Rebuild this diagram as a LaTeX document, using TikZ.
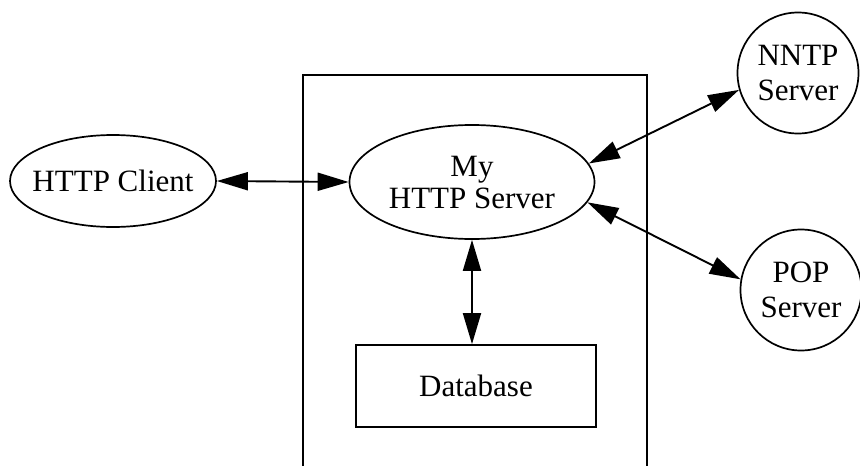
\documentclass[tikz,border=0pt]{standalone}
\usepackage{fontspec}
\setmainfont{Liberation Serif}
\usetikzlibrary{shapes.geometric,arrows.meta}
\begin{document}
\begin{tikzpicture}[x=1pt,y=-1pt,
  every node/.style={font=\fontsize{31}{32}\selectfont, inner sep=0pt},
  ell/.style={draw, ellipse, line width=1.7pt},
  circ/.style={draw, circle, line width=1.7pt, minimum size=121pt, align=center, font=\fontsize{31}{35}\selectfont},
  dbbox/.style={draw, rectangle, line width=1.7pt},
  link/.style={line width=1.9pt, {Triangle[length=31pt,width=18pt]}-{Triangle[length=31pt,width=18pt]}}
]
\useasboundingbox (0,0) rectangle (860,466);
% enclosing box (cut off at bottom)
\draw[line width=2pt] (303,470) -- (303,75) -- (647,75) -- (647,470);
\node[ell, inner xsep=-9pt, minimum width=206pt, minimum height=92pt] (client) at (113,181) {HTTP Client};
\node[ell, minimum width=245pt, minimum height=114pt, align=center] (server) at (472,182) {My\\HTTP Server};
\node[dbbox, minimum width=240pt, minimum height=82pt] (db) at (476,386) {Database};
\node[circ] (nntp) at (798,73) {NNTP\\Server};
\node[circ] (pop) at (801,290) {POP\\Server};
\draw[link] (client.east) -- (server.west);
\draw[link] (server.9) -- (nntp.196);
\draw[link] (server.-10) -- (pop.170);
\draw[link] (server.south) -- (server.south |- db.north);
\end{tikzpicture}
\end{document}
